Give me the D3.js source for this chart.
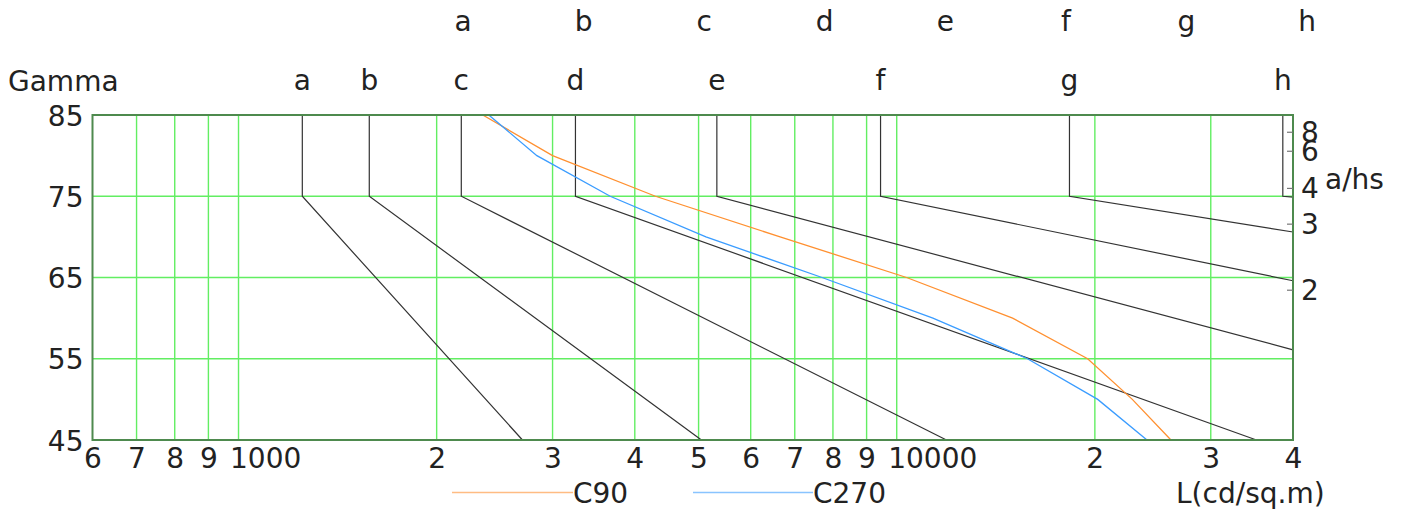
<!DOCTYPE html>
<html>
<head>
<meta charset="utf-8">
<script src="https://cdn.jsdelivr.net/npm/d3@7"></script>
<style>
  body { margin: 0; background: #fff; }
  text { font-family: "DejaVu Sans", Verdana, sans-serif; font-size: 28px; fill: #222; }
</style>
</head>
<body>
<div id="chart"></div>
<script>
////////////////////////////////////////////////////////////////
// Data

// luminance class letters
var classes = ["a", "b", "c", "d", "e", "f", "g", "h"];
// luminance (cd/m2) of each class line between 85 and 75 deg
var classL75 = [1250, 1580, 2180, 3250, 5330, 9450, 18300, 38600];
// where each class line ends (luminance, gamma)
var classEndL = [2700, 5050, 11900, 35200, 40000, 40000, 40000, 40000];
var classEndGamma = [45, 45, 45, 45, 56.1, 64.6, 70.6, 74.9];

// measured luminance curves
var gammaSteps = [85, 80, 75, 70, 65, 60, 55, 50, 45];
var c90 = [2350, 3000, 4300, 6650, 10350, 15000, 19500, 22800, 26100];
var c270 = [2400, 2840, 3670, 5130, 7700, 11350, 15800, 20200, 24000];

// axes
var xTickValues = [600, 700, 800, 900, 1000, 2000, 3000, 4000, 5000, 6000, 7000, 8000, 9000,
    10000, 20000, 30000, 40000];
var gammaTicks = [45, 55, 65, 75, 85];
var ahsTicks = [2, 3, 4, 6, 8];

////////////////////////////////////////////////////////////////
// Basic parameters

var svgWidth = 1406;
var svgHeight = 513;
var plot = { left: 92.5, right: 1293, top: 115, bottom: 440 };

var svg = d3.select("#chart")
    .append("svg")
    .attr("width", svgWidth)
    .attr("height", svgHeight);

var x = d3.scaleLog().domain([600, 40000]).range([plot.left, plot.right]);
var y = d3.scaleLinear().domain([45, 85]).range([plot.bottom, plot.top]);

var gridColor = "#62ee62";
var c90Color = "#ff9030";
var c270Color = "#3a9cff";

////////////////////////////////////////////////////////////////
// Grid

svg.append("g").selectAll("line")
    .data(xTickValues.slice(1, -1))
    .enter()
    .append("line")
    .attr("x1", d => x(d)).attr("x2", d => x(d))
    .attr("y1", plot.top).attr("y2", plot.bottom)
    .attr("stroke", gridColor)
    .attr("stroke-width", 1.4);

svg.append("g").selectAll("line")
    .data(gammaTicks.slice(1, -1))
    .enter()
    .append("line")
    .attr("x1", plot.left).attr("x2", plot.right)
    .attr("y1", d => y(d)).attr("y2", d => y(d))
    .attr("stroke", gridColor)
    .attr("stroke-width", 1.4);

////////////////////////////////////////////////////////////////
// Class lines

var line = d3.line().x(d => x(d[0])).y(d => y(d[1]));

var classPaths = classes.map((c, i) => [
    [classL75[i], 85],
    [classL75[i], 75],
    [classEndL[i], classEndGamma[i]]
]);

svg.append("g").selectAll("path")
    .data(classPaths)
    .enter()
    .append("path")
    .attr("d", line)
    .attr("fill", "none")
    .attr("stroke", "#333")
    .attr("stroke-width", 1.2);

// class labels above the vertical segments
svg.append("g").selectAll("text")
    .data(classes)
    .enter()
    .append("text")
    .attr("x", (d, i) => x(classL75[i]))
    .attr("y", 90)
    .attr("text-anchor", "middle")
    .text(d => d);

// top row of class labels
var topRow = d3.scalePoint().domain(classes).range([463, 1307]);
svg.append("g").selectAll("text")
    .data(classes)
    .enter()
    .append("text")
    .attr("x", d => topRow(d))
    .attr("y", 31)
    .attr("text-anchor", "middle")
    .text(d => d);

////////////////////////////////////////////////////////////////
// Curves

function curvePoints(values) {
    return values.map((v, i) => [v, gammaSteps[i]]);
}

svg.append("path")
    .attr("d", line(curvePoints(c90)))
    .attr("fill", "none")
    .attr("stroke", c90Color)
    .attr("stroke-width", 1.3);

svg.append("path")
    .attr("d", line(curvePoints(c270)))
    .attr("fill", "none")
    .attr("stroke", c270Color)
    .attr("stroke-width", 1.3);

////////////////////////////////////////////////////////////////
// Frame and axes

svg.append("rect")
    .attr("x", plot.left).attr("y", plot.top)
    .attr("width", plot.right - plot.left)
    .attr("height", plot.bottom - plot.top)
    .attr("fill", "none")
    .attr("stroke", "#4e8a4e")
    .attr("stroke-width", 2);

// bottom axis: first digit of each value, full number at decades
var xAxis = d3.axisBottom(x)
    .tickValues(xTickValues)
    .tickSize(0)
    .tickPadding(0)
    .tickFormat(d => (d === 1000 || d === 10000) ? String(d) : String(d)[0]);

var xAxisG = svg.append("g")
    .attr("transform", `translate(0, ${plot.bottom})`)
    .call(xAxis);
xAxisG.select(".domain").remove();
xAxisG.selectAll("text")
    .attr("text-anchor", "start")
    .attr("dx", -9)
    .attr("dy", 0)
    .attr("y", 28)
    .attr("fill", "#222")
    .style("font-size", "28px")
    .style("font-family", "'DejaVu Sans', Verdana, sans-serif");

// left axis
var yAxis = d3.axisLeft(y)
    .tickValues(gammaTicks)
    .tickSize(0)
    .tickPadding(0)
    .tickFormat(d3.format("d"));

var yAxisG = svg.append("g")
    .attr("transform", `translate(${plot.left - 9}, 0)`)
    .call(yAxis);
yAxisG.select(".domain").remove();
yAxisG.selectAll("text")
    .attr("dy", 10)
    .attr("fill", "#222")
    .style("font-size", "28px")
    .style("font-family", "'DejaVu Sans', Verdana, sans-serif");

// right axis: a/hs, placed at gamma = atan(a/hs)
var ahsG = svg.append("g");
ahsG.selectAll("line")
    .data(ahsTicks)
    .enter()
    .append("line")
    .attr("x1", plot.right - 6).attr("x2", plot.right)
    .attr("y1", d => y(Math.atan(d) * 180 / Math.PI))
    .attr("y2", d => y(Math.atan(d) * 180 / Math.PI))
    .attr("stroke", "#777")
    .attr("stroke-width", 1.2);
ahsG.selectAll("text")
    .data(ahsTicks)
    .enter()
    .append("text")
    .attr("x", plot.right + 8)
    .attr("y", d => y(Math.atan(d) * 180 / Math.PI) + 10)
    .text(d => d);

////////////////////////////////////////////////////////////////
// Titles and legend

svg.append("text").attr("x", 8).attr("y", 91).text("Gamma");
svg.append("text").attr("x", 1325).attr("y", 189).text("a/hs");
svg.append("text").attr("x", 1176).attr("y", 503).text("L(cd/sq.m)");

var legend = svg.append("g");
legend.append("line")
    .attr("x1", 452).attr("x2", 573).attr("y1", 492.5).attr("y2", 492.5)
    .attr("stroke", c90Color).attr("stroke-opacity", 0.6).attr("stroke-width", 1.5);
legend.append("text").attr("x", 573).attr("y", 503).text("C90");
legend.append("line")
    .attr("x1", 693).attr("x2", 813).attr("y1", 492.5).attr("y2", 492.5)
    .attr("stroke", c270Color).attr("stroke-opacity", 0.6).attr("stroke-width", 1.5);
legend.append("text").attr("x", 813).attr("y", 503).text("C270");
</script>
</body>
</html>
